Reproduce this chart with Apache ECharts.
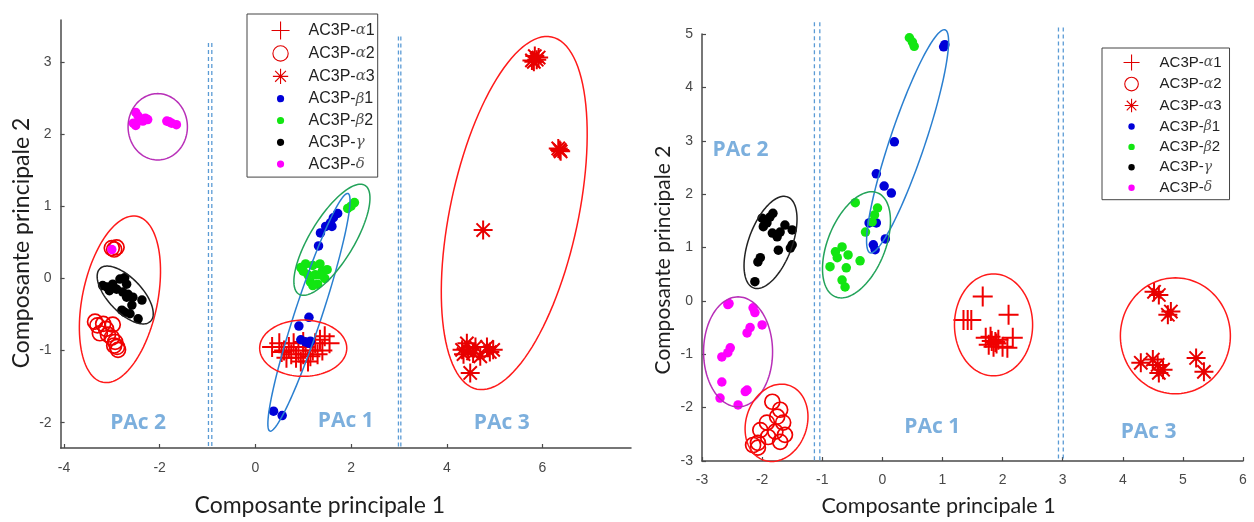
<!DOCTYPE html>
<html><head><meta charset="utf-8">
<script src="https://cdn.jsdelivr.net/npm/echarts@6/dist/echarts.min.js"></script>
<style>html,body{margin:0;padding:0;background:#fff}#c{width:1254px;height:522px}</style>
</head><body><div id="c"></div>
<script>
// ---------- data : left panel ----------
const seriesNames = ['AC3P-α1','AC3P-α2','AC3P-α3','AC3P-β1','AC3P-β2','AC3P-γ','AC3P-δ'];
const L_alpha1 = [[0.35,-0.95],[0.5,-0.9],[0.6,-1.0],[0.7,-0.95],[0.75,-1.05],[0.8,-0.9],[0.85,-1.1],[0.9,-1.0],[1.0,-1.05],[1.05,-0.95],[1.1,-1.15],[1.2,-1.0],[1.25,-0.9],[1.3,-1.05],[1.35,-0.85],[1.45,-0.8],[1.55,-0.9],[0.65,-1.1],[0.95,-1.15],[1.15,-1.08],[1.4,-1.0],[0.55,-1.02],[1.0,-0.88]];
const L_alpha2 = [[-3.0,0.42],[-2.95,0.40],[-2.9,0.43],[-3.35,-0.60],[-3.18,-0.63],[-2.98,-0.64],[-3.25,-0.76],[-3.08,-0.78],[-2.93,-0.88],[-2.89,-0.95],[-2.87,-0.99],[-3.3,-0.65],[-3.12,-0.7],[-3.0,-0.82],[-2.95,-0.93]];
const L_alpha3 = [[5.78,3.02],[5.84,3.08],[5.88,3.03],[5.82,3.0],[5.92,3.06],[6.33,1.8],[6.38,1.76],[6.36,1.78],[4.76,0.67],[4.32,-0.99],[4.42,-0.9],[4.55,-1.04],[4.84,-0.95],[4.97,-0.99],[4.7,-1.08],[4.49,-1.31],[4.35,-1.05],[4.45,-1.0],[4.6,-0.95],[4.9,-1.02]];
const L_beta1 = [[1.32,0.45],[1.36,0.63],[1.47,0.72],[1.57,0.77],[1.63,0.84],[1.72,0.9],[1.6,0.72],[1.12,-0.54],[0.91,-0.66],[0.95,-0.85],[1.05,-0.88],[1.12,-0.9],[1.15,-0.87],[0.38,-1.84],[0.56,-1.9]];
const L_beta2 = [[1.93,0.97],[2.07,1.05],[2.0,1.0],[0.95,0.15],[1.05,0.2],[1.2,0.18],[1.35,0.2],[1.1,0.05],[1.25,0.05],[1.4,0.1],[1.15,-0.05],[1.3,-0.08],[1.45,0.0],[1.5,0.12],[1.2,-0.1],[1.35,0.05],[1.0,0.1]];
const L_gamma = [[-3.1,-0.12],[-2.98,-0.08],[-2.83,-0.01],[-2.73,0.01],[-3.05,-0.17],[-2.9,-0.15],[-2.69,-0.08],[-2.66,-0.22],[-2.77,-0.19],[-2.56,-0.26],[-2.37,-0.3],[-2.69,-0.26],[-2.73,-0.47],[-2.79,-0.44],[-2.62,-0.49],[-2.45,-0.56],[-3.19,-0.1],[-2.58,-0.37]];
const L_delta = [[-2.5,2.3],[-2.45,2.25],[-2.4,2.2],[-2.55,2.15],[-2.5,2.12],[-2.35,2.18],[-2.3,2.22],[-2.25,2.2],[-1.85,2.18],[-1.8,2.17],[-1.75,2.15],[-1.65,2.13],[-3.0,0.4]];
// ellipses: [cx, cy, ux, uy, vx, vy] (centre + two conjugate semi-axes, data units)
const L_ellipses = [[-2.83,-0.29,0.355,1.15,0.77,-0.10],[-2.72,-0.23,0.52,-0.37,0.27,0.154],[-2.04,2.10,0.62,0,0,0.46],[1.12,-0.47,0.815,1.646,0.27,-0.055],[1.60,0.535,0.69,0.754,0.395,-0.156],[1.0,-0.967,0.91,0,0,0.39],[5.41,0.905,0.78,2.44,1.31,-0.18]];
const L_dividers = [[-0.98,3.26],[-0.91,3.26],[2.99,3.35],[3.04,3.35]]; // [x, top]
const L_zones = [['PAc 2',-2.45,-2.0],['PAc 1',1.89,-1.98],['PAc 3',5.15,-2.0]];
const L_xRange = [-4.07, 7.85], L_yRange = [-2.35, 3.58];

// ---------- data : right panel ----------
const R_alpha1 = [[1.67,0.08],[2.1,-0.26],[1.42,-0.36],[1.35,-0.36],[1.48,-0.36],[1.8,-0.67],[1.88,-0.77],[1.77,-0.82],[1.93,-0.73],[2.08,-0.88],[2.17,-0.69],[1.85,-0.86],[2.0,-0.86],[1.72,-0.69],[1.82,-0.75],[1.9,-0.8]];
const R_alpha2 = [[-1.83,-1.89],[-1.7,-2.04],[-1.75,-2.17],[-1.92,-2.28],[-1.65,-2.28],[-2.03,-2.42],[-1.78,-2.45],[-1.62,-2.51],[-2.07,-2.66],[-2.07,-2.75],[-1.7,-2.64],[-1.9,-2.55],[-2.15,-2.7]];
const R_alpha3 = [[4.6,0.11],[4.52,0.17],[4.8,-0.2],[4.75,-0.26],[4.3,-1.16],[4.5,-1.1],[4.58,-1.2],[4.67,-1.29],[4.6,-1.35],[5.22,-1.07],[5.35,-1.33]];
const R_beta1 = [[1.02,4.76],[1.04,4.8],[0.2,2.98],[-0.1,2.38],[0.03,2.15],[0.15,2.02],[-0.1,1.46],[-0.22,1.46],[0.05,1.16],[-0.15,1.05],[-0.12,0.96]];
const R_beta2 = [[0.45,4.93],[0.5,4.85],[0.53,4.77],[-0.45,1.84],[-0.08,1.74],[-0.13,1.61],[-0.17,1.48],[-0.28,1.29],[-0.67,1.01],[-0.57,0.86],[-0.75,0.81],[-0.87,0.64],[-0.6,0.62],[-0.37,0.75],[-0.67,0.39],[-0.62,0.26],[-0.78,0.92]];
const R_gamma = [[-2.0,1.55],[-1.95,1.48],[-1.87,1.57],[-1.82,1.64],[-1.98,1.39],[-1.83,1.27],[-1.75,1.2],[-1.62,1.42],[-1.5,1.33],[-1.53,0.99],[-1.5,1.05],[-1.73,0.95],[-2.03,0.81],[-2.07,0.73],[-2.12,0.36],[-1.92,1.46],[-1.7,1.29]];
const R_delta = [[-2.57,-0.07],[-2.55,-0.05],[-2.15,-0.13],[-2.12,-0.22],[-2.0,-0.45],[-2.2,-0.5],[-2.25,-0.6],[-2.53,-0.88],[-2.57,-0.97],[-2.67,-1.05],[-2.67,-1.52],[-2.25,-1.67],[-2.28,-1.7],[-2.7,-1.82],[-2.4,-1.95]];
const R_ellipses = [[0.42,2.99,0.624,2.088,0.276,-0.105],[-0.43,1.05,0.35,0.974,0.444,-0.20],[-1.86,1.095,0.283,0.852,0.338,-0.142],[-2.40,-0.955,0.574,0,0,1.03],[-1.76,-2.285,0.208,0.702,0.48,-0.18],[1.85,-0.45,0.65,0,0,0.955],[4.875,-0.655,0.915,0,0,1.086]];
const R_dividers = [[-1.13,5.22],[-1.04,5.22],[2.93,5.12],[3.01,5.12]];
const R_zones = [['PAc 2',-2.36,2.83],['PAc 1',0.83,-2.36],['PAc 3',4.43,-2.45]];
const R_xRange = [-3, 6], R_yRange = [-3, 5];

// ---------- styles ----------
const BLUE = '#0000d8', GREEN = '#12e612', BLACK = '#000000', MAG = '#ff00ff';
const L_ellipseColors = ['#ff1a1a','#222222','#b82fb8','#2a7fd0','#23a35a','#ff1a1a','#ff1a1a'];
const R_ellipseColors = ['#2a7fd0','#23a35a','#222222','#b82fb8','#ff1a1a','#ff1a1a','#ff1a1a'];
const PLUS = 'path://M10,0L10,20M0,10L20,10';
const STAR = 'path://M10,0L10,20M0,10L20,10M3,3L17,17M3,17L17,3';
// legend icons padded into a 20x20 box
const IC_DOT = 'path://M0,0M20,20M10,6A4,4,0,1,1,9.99,6Z';
const IC_PLUS = 'path://M0,0M20,20M10,0L10,20M0,10L20,10';
const IC_CIRC = 'path://M0,0M20,20M10,1.5A8.5,8.5,0,1,1,9.99,1.5Z';
const IC_STAR = 'path://M0,0M20,20M10,1.5L10,18.5M1.5,10L18.5,10M4,4L16,16M4,16L16,4';

const ZONE_COLOR = '#5b9bd5';

function scatterSeries(data, k, ax, dotSize){
  const name = seriesNames[k];
  const base = {type:'scatter', name, xAxisIndex:ax, yAxisIndex:ax, data, silent:true, z:3, animation:false};
  if (k === 0) return Object.assign(base,{symbol:PLUS, symbolSize:20, itemStyle:{color:'rgba(0,0,0,0)', borderColor:'#f00000', borderWidth:2, opacity:1}});
  if (k === 1) return Object.assign(base,{symbol:'circle', symbolSize:15, itemStyle:{color:'rgba(0,0,0,0)', borderColor:'#f00000', borderWidth:1.7, opacity:1}});
  if (k === 2) return Object.assign(base,{symbol:STAR, symbolSize:19, itemStyle:{color:'rgba(0,0,0,0)', borderColor:'#e80000', borderWidth:2, opacity:1}});
  const cols = [null,null,null,BLUE,GREEN,BLACK,MAG];
  return Object.assign(base,{symbol:'circle', symbolSize:dotSize, itemStyle:{color:cols[k], borderWidth:0, opacity:1}});
}
function ellipseSeries(data, colors, ax){
  return {type:'custom', xAxisIndex:ax, yAxisIndex:ax, silent:true, z:4, clip:false, animation:false,
    dimensions:['cx','cy','ux','uy','vx','vy'], encode:{x:0,y:1}, data,
    renderItem:function(params, api){
      const cx=api.value(0), cy=api.value(1), ux=api.value(2), uy=api.value(3), vx=api.value(4), vy=api.value(5);
      const pts=[]; const N=120;
      for(let i=0;i<N;i++){ const t=i/N*2*Math.PI, c=Math.cos(t), s=Math.sin(t);
        pts.push(api.coord([cx+ux*c+vx*s, cy+uy*c+vy*s])); }
      return {type:'polygon', shape:{points:pts}, style:{fill:'none', stroke:colors[params.dataIndex], lineWidth:1.5}};
    }};
}
function dividerSeries(divs, yMin, ax){
  return divs.map(d => ({type:'line', xAxisIndex:ax, yAxisIndex:ax, silent:true, clip:false, symbol:'none', animation:false, z:2,
    data:[[d[0], d[1]],[d[0], yMin]], lineStyle:{color:'#5b9bd5', width:1.3, type:[4,3]}}));
}
function zoneSeries(zones, ax){
  return {type:'scatter', xAxisIndex:ax, yAxisIndex:ax, silent:true, symbolSize:0, animation:false, z:5,
    data: zones.map(z => ({name:z[0], value:[z[1], z[2]]})),
    label:{show:true, position:'inside', formatter:'{b}', color:ZONE_COLOR, fontFamily:'Open Sans', fontWeight:'bold', fontSize:21}};
}
function axisCommon(){
  return {axisLine:{show:true, onZero:false, lineStyle:{color:'#4a4a4a', width:1.5}},
    axisTick:{show:true, inside:true, length:4, lineStyle:{color:'#4a4a4a', width:1.2}},
    splitLine:{show:false},
    axisLabel:{color:'#484848', fontFamily:'Liberation Sans', fontSize:14}};
}
function legendData(){
  const icons=[IC_PLUS, IC_CIRC, IC_STAR, IC_DOT, IC_DOT, IC_DOT, IC_DOT];
  const cols=[null,null,null,BLUE,GREEN,BLACK,MAG];
  return seriesNames.map((n,k)=>({name:n, icon:icons[k],
    itemStyle: k<3 ? {color:'rgba(0,0,0,0)', borderColor:'#e00000', borderWidth:1.1, opacity:1} : {color:cols[k], borderWidth:0, opacity:1}}));
}
function legendFmt(name){ return name.replace(/([αβγδ])/, '{g|$1}'); }

const LX = Object.assign(axisCommon(), {type:'value', gridIndex:0, min:L_xRange[0], max:L_xRange[1], splitNumber:6,
  name:'Composante principale 1', nameLocation:'middle', nameGap:46,
  nameTextStyle:{fontFamily:'Lato', fontSize:23, color:'#1e1e1e', padding:[0,52,0,0]}});
LX.axisLabel = Object.assign({}, LX.axisLabel, {margin:13, showMinLabel:false, showMaxLabel:false});
const LY = Object.assign(axisCommon(), {type:'value', gridIndex:0, min:L_yRange[0], max:L_yRange[1], splitNumber:6,
  name:'Composante principale 2', nameLocation:'middle', nameGap:28,
  nameTextStyle:{fontFamily:'Lato', fontSize:23, color:'#1e1e1e', padding:[0,18,0,0]}});
LY.axisLabel = Object.assign({}, LY.axisLabel, {margin:9, showMinLabel:false, showMaxLabel:false});
const RX = Object.assign(axisCommon(), {type:'value', gridIndex:1, min:R_xRange[0], max:R_xRange[1], interval:1,
  name:'Composante principale 1', nameLocation:'middle', nameGap:34,
  nameTextStyle:{fontFamily:'Lato', fontSize:21.5, color:'#1e1e1e', padding:[0,68,0,0]}});
RX.axisLabel = Object.assign({}, RX.axisLabel, {margin:12});
const RY = Object.assign(axisCommon(), {type:'value', gridIndex:1, min:R_yRange[0], max:R_yRange[1], interval:1,
  name:'Composante principale 2', nameLocation:'middle', nameGap:28,
  nameTextStyle:{fontFamily:'Lato', fontSize:21, color:'#1e1e1e', padding:[0,25,0,0]}});
RY.axisLabel = Object.assign({}, RY.axisLabel, {margin:9});

const legendText = (fs)=>({fontFamily:'Liberation Sans', fontSize:fs, color:'#222',
  rich:{g:{fontFamily:'DejaVu Serif', fontStyle:'italic', fontSize:fs-1, color:'#555'}}});

const option = {
  backgroundColor:'#fff',
  animation:false,
  grid:[{left:60.6, top:20, width:570.4, height:432, containLabel:false},
        {left:702, top:34, width:541, height:427, containLabel:false}],
  xAxis:[LX, RX],
  yAxis:[LY, RY],
  legend:[
    {orient:'vertical', left:247, top:14, padding:[7,3,4,24], itemWidth:46, itemHeight:18, itemGap:3.8,
     borderColor:'#444', borderWidth:1, backgroundColor:'#fff', selectedMode:false, symbolKeepAspect:true,
     data:legendData(), formatter:legendFmt, textStyle:legendText(16), z:10},
    {orient:'vertical', left:1102, top:48, padding:[6,8,4,21], itemWidth:46, itemHeight:16, itemGap:4.4,
     borderColor:'#444', borderWidth:1, backgroundColor:'#fff', selectedMode:false, symbolKeepAspect:true,
     data:legendData(), formatter:legendFmt, textStyle:legendText(15), z:10}
  ],
  series:[].concat(
    dividerSeries(L_dividers, L_yRange[0], 0),
    dividerSeries(R_dividers, R_yRange[0], 1),
    [L_alpha1,L_alpha2,L_alpha3,L_beta1,L_beta2,L_gamma,L_delta].map((d,k)=>scatterSeries(d,k,0,9.5)),
    [R_alpha1,R_alpha2,R_alpha3,R_beta1,R_beta2,R_gamma,R_delta].map((d,k)=>scatterSeries(d,k,1,9.5)),
    [ellipseSeries(L_ellipses, L_ellipseColors, 0), ellipseSeries(R_ellipses, R_ellipseColors, 1),
     zoneSeries(L_zones, 0), zoneSeries(R_zones, 1)]
  )
};
const chart = echarts.init(document.getElementById('c'), null, {renderer:'canvas'});
chart.setOption(option);
</script></body></html>
